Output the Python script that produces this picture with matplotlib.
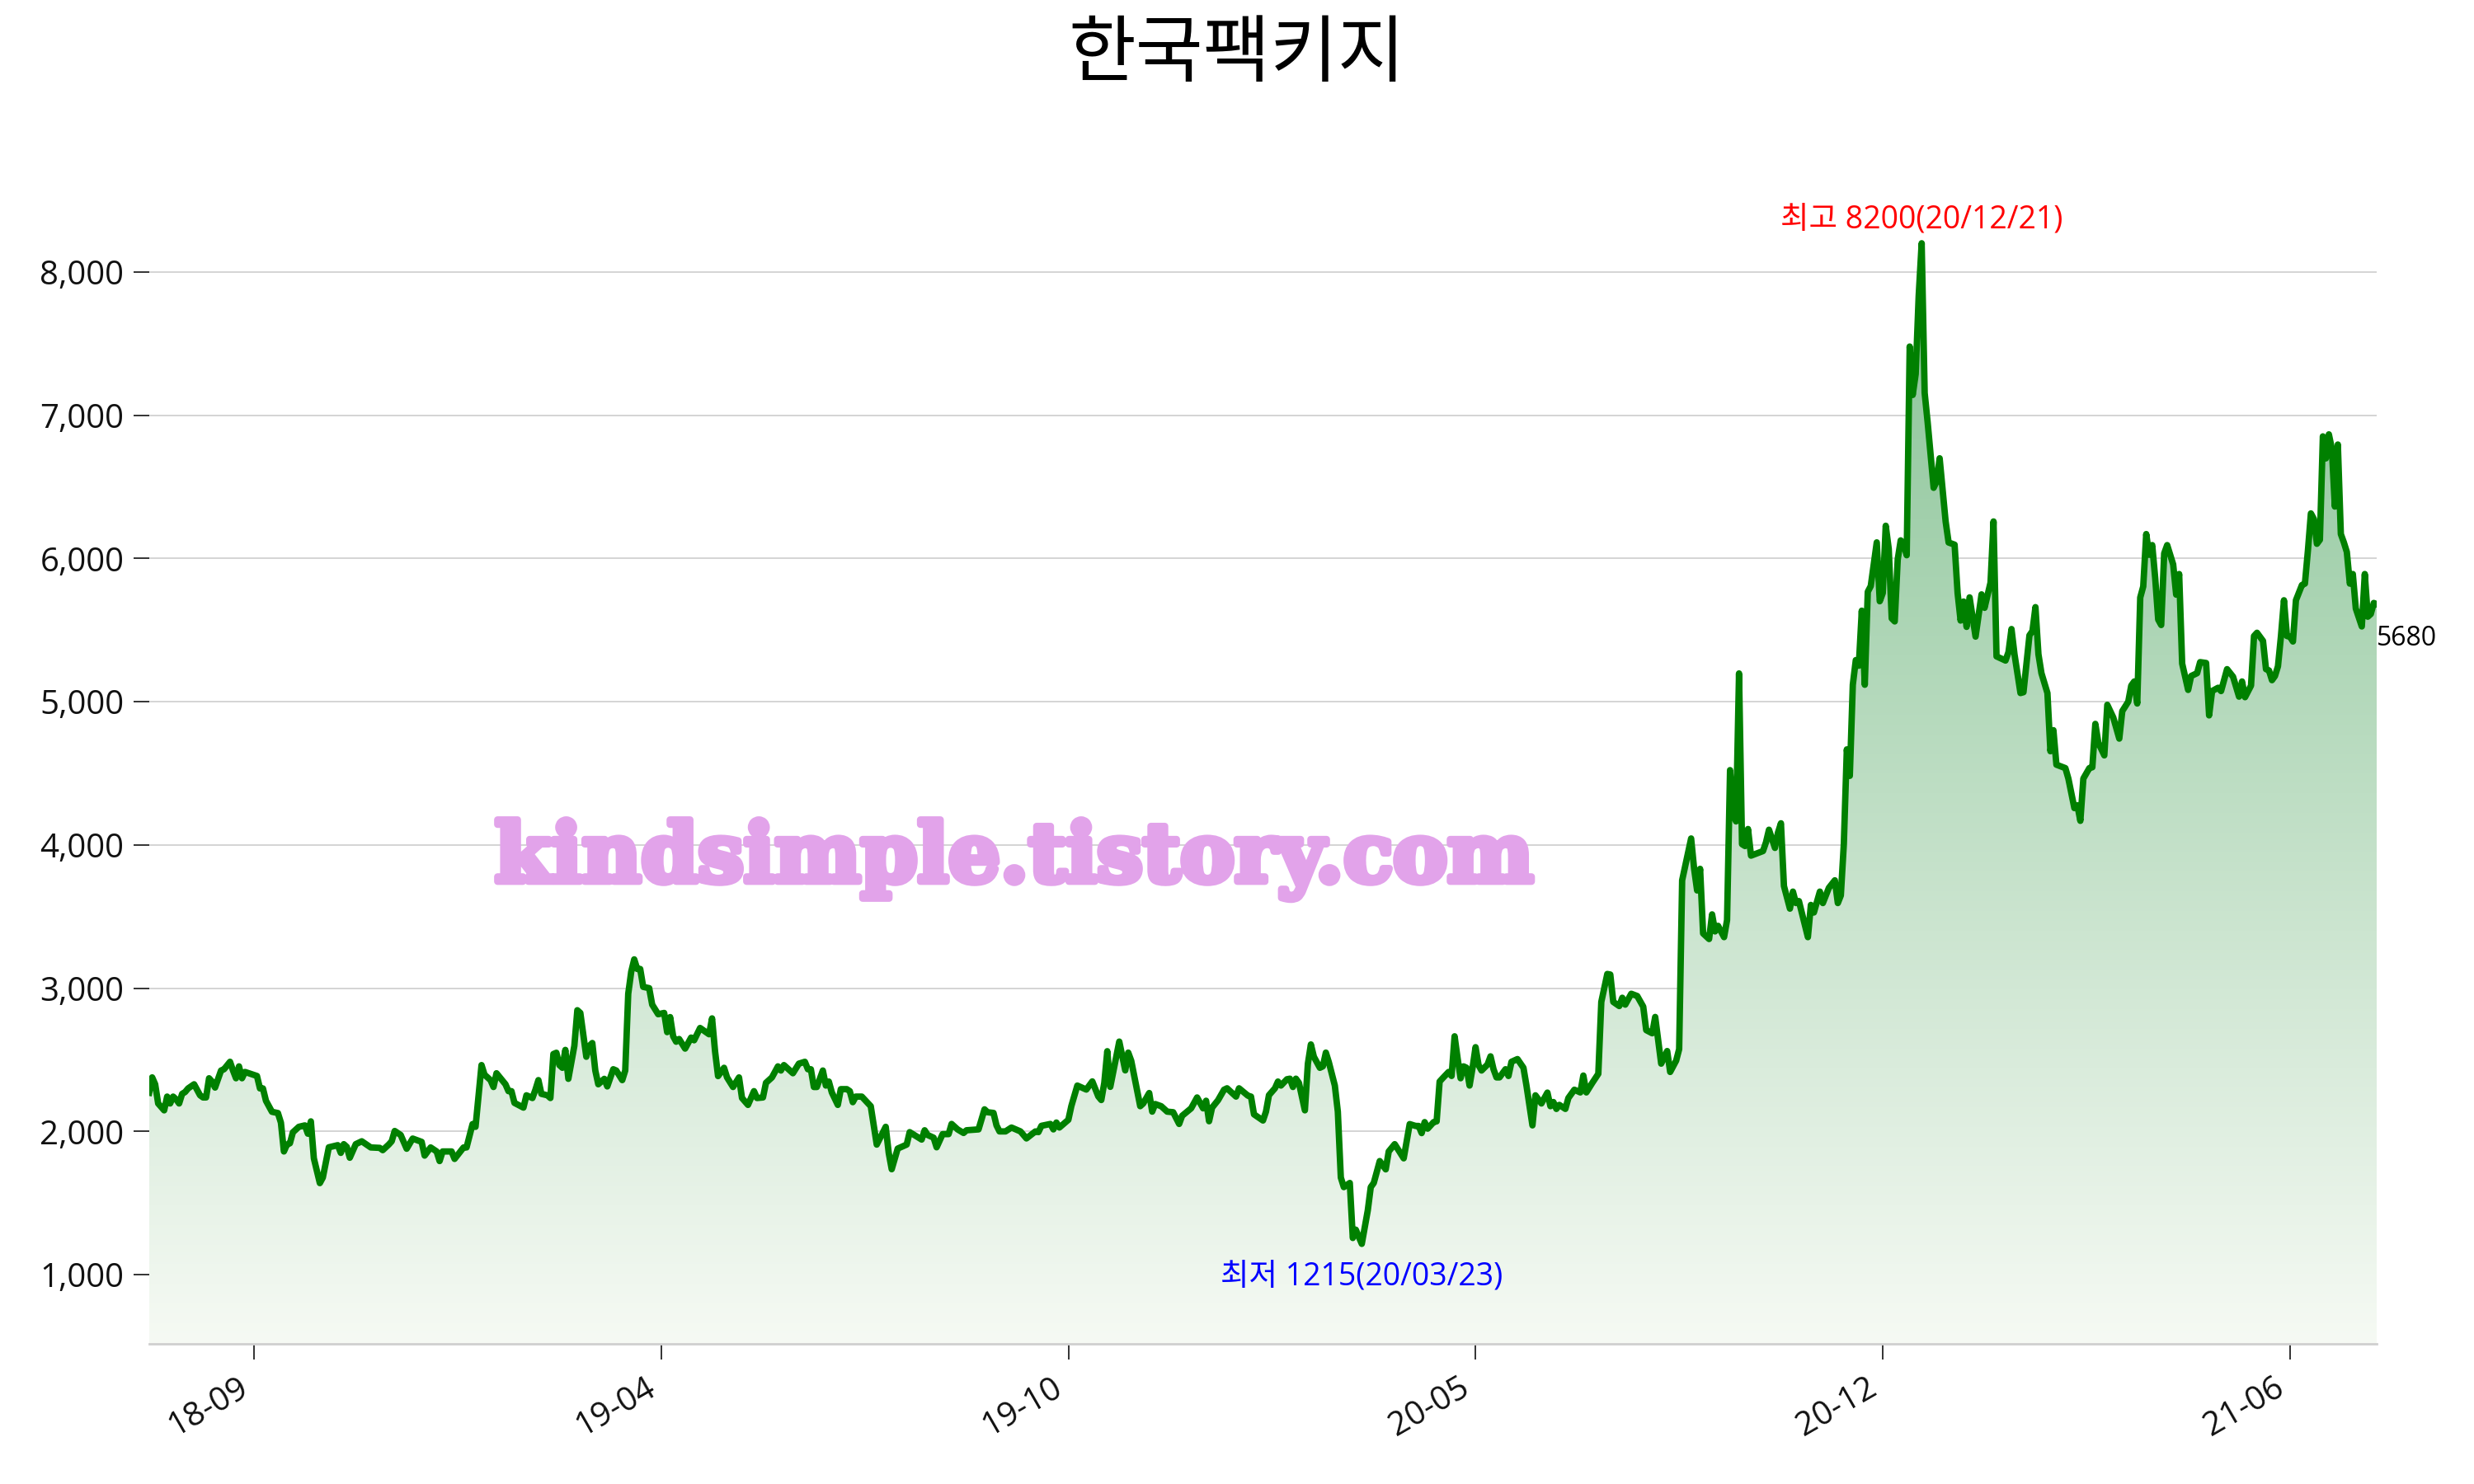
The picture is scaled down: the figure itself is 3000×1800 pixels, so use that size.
import numpy as np
import matplotlib
matplotlib.use("Agg")
import matplotlib.pyplot as plt
from matplotlib.patches import Polygon
from matplotlib.ticker import FuncFormatter, FixedLocator
import matplotlib.patheffects as pe

plt.rcParams['font.family'] = ['Open Sans', 'Noto Sans CJK KR', 'DejaVu Sans']

title = "한국팩키지"
watermark = "kindsimple.tistory.com"

# trading-day index and closing price
day = [0, 1, 2, 3, 5, 6, 7, 8, 9, 10, 11, 12, 13, 15, 17, 18, 19, 20, 21, 22, 24, 25, 27, 28, 29, 30, 31, 32,
       36, 37, 38, 39, 41, 43, 44, 45, 46, 47, 48, 50, 52, 53, 54, 55, 57, 58, 60, 63, 64, 65, 66, 67, 69, 71,
       74, 77, 78, 80, 81, 82, 84, 86, 88, 91, 92, 94, 96, 97, 98, 101, 102, 105, 106, 108, 109, 111, 112, 114,
       115, 116, 119, 120, 121, 122, 125, 126, 128, 129, 130, 131, 133, 134, 135, 136, 137, 138, 139, 140, 142,
       143, 144, 146, 147, 148, 149, 150, 152, 153, 155, 156, 158, 159, 160, 161, 162, 163, 164, 165, 167, 168,
       170, 172, 173, 174, 175, 176, 177, 179, 181, 182, 184, 187, 188, 189, 190, 192, 193, 195, 197, 198, 200,
       202, 203, 205, 206, 208, 210, 211, 212, 215, 217, 219, 220, 221, 222, 223, 225, 226, 227, 228, 230, 231,
       233, 234, 235, 236, 238, 241, 242, 243, 246, 247, 248, 250, 253, 254, 257, 258, 259, 260, 262, 263, 265,
       267, 268, 270, 272, 273, 277, 279, 280, 282, 283, 284, 286, 288, 291, 293, 296, 297, 298, 301, 302, 303,
       304, 307, 308, 310, 313, 315, 317, 318, 319, 320, 321, 324, 326, 327, 328, 331, 332, 334, 335, 336, 338,
       340, 342, 344, 345, 348, 350, 352, 353, 354, 355, 357, 359, 360, 363, 364, 367, 368, 369, 372, 373, 374,
       376, 377, 378, 380, 381, 382, 383, 384, 386, 387, 388, 389, 391, 392, 393, 394, 396, 397, 398, 399, 401,
       402, 403, 405, 407, 408, 409, 411, 413, 414, 416, 419, 421, 423, 424, 425, 426, 427, 429, 430, 431, 432,
       434, 435, 436, 437, 438, 439, 440, 441, 442, 443, 444, 445, 447, 448, 449, 450, 451, 453, 454, 455, 457,
       459, 460, 462, 463, 465, 467, 468, 469, 470, 471, 473, 474, 476, 478, 479, 480, 482, 483, 484, 485, 487,
       488, 489, 491, 492, 493, 495, 497, 499, 500, 502, 503, 505, 507, 508, 510, 511, 512, 515, 516, 517, 518,
       519, 521, 522, 523, 524, 526, 527, 528, 529, 530, 531, 532, 533, 534, 535, 539, 540, 541, 543, 544, 545,
       546, 548, 549, 550, 551, 554, 555, 556, 558, 559, 561, 563, 564, 565, 566, 567, 568, 569, 570, 571, 572,
       573, 574, 575, 577, 578, 579, 580, 581, 582, 583, 584, 585, 586, 587, 588, 589, 590, 591, 592, 593, 594,
       596, 597, 598, 600, 601, 603, 604, 605, 606, 607, 608, 610, 612, 613, 615, 616, 617, 620, 621, 622, 623,
       625, 626, 628, 629, 630, 631, 632, 634, 635, 636, 637, 640, 641, 643, 644, 645, 646, 648, 649, 650, 651,
       653, 654, 656, 658, 659, 661, 662, 663, 664, 665, 666, 667, 668, 669, 670, 671, 672, 673, 674, 676, 677,
       678, 679, 681, 682, 684, 685, 687, 688, 689, 691, 692, 694, 696, 698, 699, 700, 702, 703, 704, 706, 707,
       708, 709, 710, 711, 712, 713, 714, 715, 716, 717, 719, 720, 721, 722, 723, 724, 725, 726, 727, 728, 729,
       730, 731, 732, 733, 734, 735, 736, 737, 739, 740, 741, 742, 743, 744]

price = [2270, 2377, 2329, 2195, 2147, 2243, 2195, 2243, 2224, 2195, 2262, 2275, 2300, 2329, 2252, 2237, 2237,
         2371, 2348, 2306, 2425, 2434, 2486, 2425, 2371, 2454, 2371, 2415, 2387, 2300, 2300, 2214, 2137, 2128,
         2061, 1860, 1908, 1917, 1994, 2032, 2042, 1984, 2070, 1812, 1639, 1678, 1889, 1904, 1850, 1911, 1892,
         1816, 1911, 1931, 1888, 1885, 1869, 1908, 1931, 2003, 1975, 1879, 1950, 1927, 1831, 1888, 1860, 1793,
         1860, 1860, 1808, 1888, 1888, 2051, 2032, 2463, 2396, 2358, 2310, 2406, 2329, 2281, 2281, 2199, 2166,
         2252, 2233, 2291, 2358, 2262, 2252, 2233, 2540, 2549, 2463, 2444, 2569, 2367, 2597, 2846, 2827, 2521,
         2597, 2617, 2425, 2329, 2367, 2314, 2434, 2425, 2358, 2425, 2961, 3115, 3201, 3134, 3134, 3009, 3000,
         2885, 2818, 2827, 2693, 2798, 2664, 2626, 2645, 2578, 2655, 2636, 2722, 2678, 2789, 2559, 2386, 2444,
         2377, 2310, 2377, 2233, 2185, 2281, 2233, 2237, 2339, 2377, 2454, 2425, 2463, 2406, 2473, 2486, 2434,
         2434, 2310, 2310, 2425, 2320, 2348, 2272, 2185, 2295, 2295, 2281, 2204, 2243, 2243, 2176, 2042, 1908,
         2032, 1850, 1736, 1880, 1908, 1995, 1956, 1943, 2008, 1975, 1956, 1889, 1981, 1981, 2052, 2014, 1989,
         2008, 2014, 2154, 2134, 2129, 2042, 2000, 2000, 2027, 2000, 1951, 2000, 1995, 2039, 2052, 2014, 2062,
         2027, 2081, 2177, 2320, 2292, 2349, 2244, 2219, 2339, 2560, 2311, 2627, 2426, 2550, 2493, 2176, 2195,
         2268, 2138, 2191, 2176, 2138, 2134, 2052, 2109, 2161, 2237, 2161, 2214, 2071, 2166, 2218, 2291, 2301,
         2243, 2301, 2249, 2243, 2119, 2076, 2138, 2253, 2301, 2348, 2320, 2364, 2368, 2310, 2368, 2339, 2147,
         2473, 2607, 2521, 2444, 2454, 2550, 2483, 2320, 2138, 1678, 1611, 1640, 1256, 1314, 1215, 1448, 1611,
         1640, 1793, 1735, 1860, 1911, 1812, 2051, 2038, 2038, 1988, 2065, 2019, 2065, 2070, 2348, 2371, 2415,
         2387, 2664, 2511, 2371, 2454, 2444, 2320, 2444, 2588, 2463, 2425, 2467, 2524, 2434, 2377, 2377, 2434,
         2387, 2486, 2505, 2444, 2320, 2042, 2252, 2195, 2271, 2176, 2205, 2157, 2185, 2157, 2233, 2291, 2272,
         2390, 2272, 2339, 2371, 2402, 2904, 3099, 3095, 2904, 2875, 2933, 2885, 2961, 2945, 2871, 2707, 2685,
         2799, 2473, 2561, 2415, 2494, 2574, 3753, 4045, 3833, 3682, 3833, 3382, 3343, 3515, 3396, 3435, 3356,
         3475, 4522, 4217, 4164, 5197, 4005, 3992, 4111, 3925, 3957, 4018, 4106, 3979, 4085, 4151, 3713, 3555,
         3674, 3594, 3608, 3356, 3581, 3528, 3674, 3594, 3700, 3753, 3594, 3647, 4005, 4667, 4482, 5118, 5290,
         5251, 5635, 5118, 5767, 5807, 6112, 5701, 5758, 6228, 6067, 5581, 5560, 5993, 6126, 6096, 6022, 7479,
         7141, 7288, 7832, 8200, 7155, 6949, 6493, 6537, 6699, 6258, 6111, 6096, 5758, 5566, 5699, 5522, 5728,
         5454, 5749, 5655, 5831, 6258, 5316, 5287, 5346, 5507, 5331, 5060, 5066, 5463, 5493, 5660, 5331, 5199,
         5060, 4654, 4801, 4560, 4536, 4463, 4257, 4277, 4168, 4463, 4536, 4542, 4845, 4713, 4625, 4978, 4889,
         4742, 4934, 5000, 5112, 5141, 4987, 5727, 5804, 6170, 6025, 6093, 5862, 5573, 5535, 6035, 6093, 5958,
         5747, 5891, 5266, 5082, 5179, 5199, 5276, 5270, 4904, 5074, 5097, 5074, 5227, 5174, 5035, 5141, 5031,
         5112, 5458, 5481, 5424, 5227, 5218, 5150, 5179, 5247, 5458, 5708, 5458, 5454, 5420, 5708, 5814, 5824,
         6054, 6314, 6275, 6102, 6130, 6852, 6698, 6866, 6766, 6362, 6795, 6170, 6112, 6045, 5824, 5891, 5650,
         5525, 5891, 5593, 5612, 5689, 5680]

tick_days = [35, 171, 307, 443, 579, 715]
tick_labels = ['18-09', '19-04', '19-10', '20-05', '20-12', '21-06']

max_label = "최고 8200(20/12/21)"
min_label = "최저 1215(20/03/23)"

x = np.array(day, dtype=float)
y = np.array(price, dtype=float)

fig = plt.figure(figsize=(15, 9), dpi=200)
ax = fig.add_axes([0.0603, 0.0944, 0.9004, 0.8091])

ymax, ymin = y.max(), y.min()
span = ymax - ymin
lo, hi = ymin - 0.1 * span, ymax + 0.1 * span
ax.set_xlim(x[0], x[-1])
ax.set_ylim(lo, hi)

# gradient fill under the line
verts = np.column_stack([np.r_[x[0], x, x[-1]], np.r_[lo, y, lo]])
poly = Polygon(verts, closed=True, facecolor='none', edgecolor='none')
ax.add_patch(poly)
c_bot = np.array([246, 250, 244]) / 255.0
c_top = np.array([134, 194, 148]) / 255.0
t = np.linspace(0, 1, 512).reshape(-1, 1, 1)
grad = c_bot + (c_top - c_bot) * t
grad = np.repeat(grad, 2, axis=1)
im = ax.imshow(grad, extent=[x[0], x[-1], lo, ymax], origin='lower', aspect='auto',
               interpolation='bilinear', zorder=1)
im.set_clip_path(poly)

ax.plot(x, y, color='#008000', lw=2.8, zorder=3, solid_joinstyle='round')

# grid and spines
ax.grid(axis='y', color='#d4d4d4', lw=0.7, zorder=0)
ax.set_axisbelow(True)
for s in ['left', 'right', 'top']:
    ax.spines[s].set_visible(False)
ax.spines['bottom'].set_color('#cfcfcf')
ax.spines['bottom'].set_linewidth(1.0)

ax.set_yticks([1000, 2000, 3000, 4000, 5000, 6000, 7000, 8000])
ax.yaxis.set_major_formatter(FuncFormatter(lambda v, p: f"{int(v):,}"))
ax.xaxis.set_major_locator(FixedLocator(tick_days))
ax.set_xticklabels(tick_labels, rotation=30, ha='right')
ax.tick_params(axis='both', labelsize=14.5, colors='#111111', length=7, width=0.6, pad=4)
ax.tick_params(axis='x', pad=5)

# title
fig.text(0.5, 0.963, title, ha='center', va='center', fontsize=32, color='black',
         family=['Noto Sans CJK KR', 'DejaVu Sans'])

# max / min annotations
imax = int(np.argmax(y))
imin = int(np.argmin(y))
ax.annotate(max_label, (x[imax], y[imax]), xytext=(0, 3), textcoords='offset points',
            ha='center', va='bottom', color='red', fontsize=13.5, zorder=5)
ax.annotate(min_label, (x[imin], y[imin]), xytext=(0, -8), textcoords='offset points',
            ha='center', va='top', color='blue', fontsize=13.5, zorder=5)

# last value
ax.annotate(f"{int(y[-1])}", (x[-1], y[-1]), xytext=(0, -9), textcoords='offset points',
            ha='left', va='top', color='black', fontsize=11.5, annotation_clip=False)

# watermark
wm_color = '#e2a3ea'
fig.text(0.41, 0.421, watermark, ha='center', va='center', fontsize=35.5,
         family='DejaVu Serif', fontweight='bold', color=wm_color, zorder=10,
         path_effects=[pe.withStroke(linewidth=3, foreground=wm_color)])

fig.savefig('out.png', dpi=200)
